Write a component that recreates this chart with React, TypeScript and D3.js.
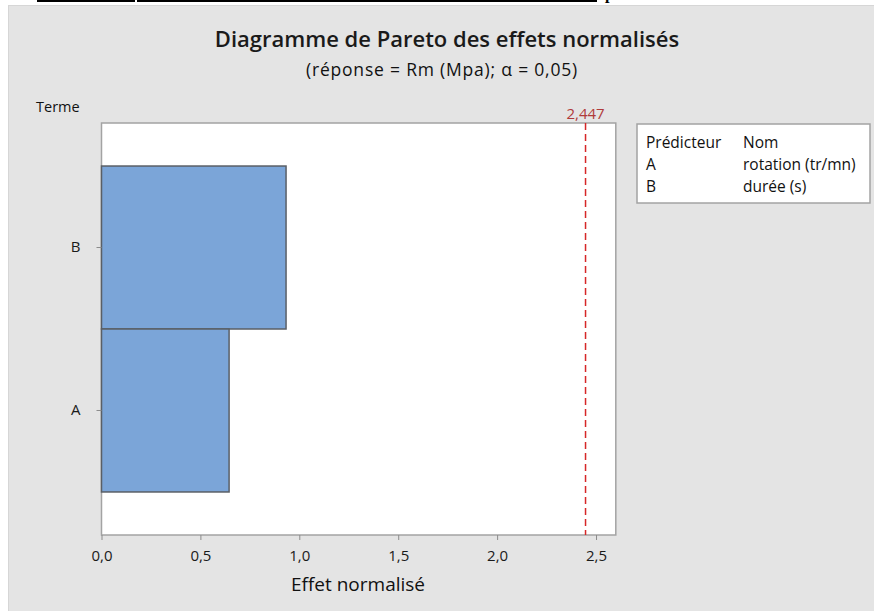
import * as d3 from 'd3';
import React from 'react';

// Termes du diagramme (ordre d'affichage, de haut en bas)
const terms = ['B', 'A'];
const effects = [0.933, 0.645];
const criticalValue = 2.447;
const xTicks = [0, 0.5, 1, 1.5, 2, 2.5];

// Tableau des prédicteurs
const predictors = ['A', 'B'];
const predictorNames = ['rotation (tr/mn)', 'durée (s)'];

const title = 'Diagramme de Pareto des effets normalisés';
const subtitle = '(réponse = Rm (Mpa); α = 0,05)';

const font = "'Open Sans', 'Noto Sans', sans-serif";

const frLocale = d3.formatLocale({ decimal: ',', thousands: ' ', grouping: [3], currency: ['', ' €'] });
const fmt1 = frLocale.format('.1f');
const fmt3 = frLocale.format('.3f');

export default function App() {
  const xAxisRef = React.useRef<SVGGElement>(null);
  const yAxisRef = React.useRef<SVGGElement>(null);

  const w = 874;
  const h = 611;
  const left = 101.5;
  const top = 123;
  const bottom = 535;
  const right = 615.8;

  const xScale = d3.scaleLinear().domain([0, 2.6]).range([left, right]);
  const yScale = d3.scaleBand().domain(terms).range([top, bottom]).paddingInner(0).paddingOuter(0.264);

  React.useEffect(() => {
    if (xAxisRef.current == null || yAxisRef.current == null) {
      return;
    }
    const gx = d3.select(xAxisRef.current);
    gx.selectAll('*').remove();
    gx.call(d3.axisBottom(xScale).tickValues(xTicks).tickFormat((d) => fmt1(d as number)).tickSize(5).tickPadding(10));
    gx.select('.domain').remove();
    gx.selectAll('line').attr('stroke', '#8c8c8c');
    gx.selectAll('text').style('font', `15px ${font}`).attr('fill', '#1a1a1a');

    const gy = d3.select(yAxisRef.current);
    gy.selectAll('*').remove();
    gy.call(d3.axisLeft(yScale).tickSize(5).tickPadding(16));
    gy.select('.domain').remove();
    gy.selectAll('line').attr('stroke', '#8c8c8c');
    gy.selectAll('text').style('font', `15px ${font}`).attr('fill', '#1a1a1a');
  }, []);

  const bars = terms.map((t, i) => (
    <rect
      key={t}
      x={xScale(0)}
      y={yScale(t)}
      width={xScale(effects[i]) - xScale(0)}
      height={yScale.bandwidth()}
      fill='#7BA5D8'
      stroke='#5a5f66'
      strokeWidth={1.5}
    />
  ));

  const legendX = 637;
  const legendY = 124;
  const rows = predictors.map((p, i) => (
    <g key={p} transform={`translate(0, ${170 + i * 21.5})`}>
      <text x={646}>{p}</text>
      <text x={743}>{predictorNames[i]}</text>
    </g>
  ));

  return (
    <svg
      width={w}
      height={h}
      style={{ position: 'absolute', left: 0, top: 0, display: 'block', background: 'white' }}>
      {/* fragment du document au-dessus du graphique */}
      <rect x={37} y={0} width={98} height={2} fill='black' />
      <rect x={137} y={0} width={460} height={2} fill='black' />
      <text x={605} y={-1} style={{ font: 'bold 16px serif' }}>
        p
      </text>

      <rect x={8} y={5} width={w - 8} height={h - 5} fill='#e4e4e4' />
      <line x1={8} y1={5.5} x2={w} y2={5.5} stroke='#d6d6d6' />
      <line x1={8.5} y1={5} x2={8.5} y2={h} stroke='#d6d6d6' />

      <text x={447} y={47} textAnchor='middle' style={{ font: `600 22px ${font}` }} fill='#1a1a1a'>
        {title}
      </text>
      <text
        x={442}
        y={76}
        textAnchor='middle'
        style={{ font: `17.5px ${font}`, letterSpacing: '0.8px' }}
        fill='#111'>
        {subtitle}
      </text>

      <text x={36} y={112} style={{ font: `14.5px ${font}` }} fill='#111'>
        Terme
      </text>

      <rect x={left} y={top} width={right - left} height={bottom - top} fill='white' stroke='#a3a3a3' strokeWidth={1.5} />
      {bars}

      <line
        x1={xScale(criticalValue)}
        x2={xScale(criticalValue)}
        y1={top}
        y2={bottom}
        stroke='#d62728'
        strokeWidth={1.5}
        strokeDasharray='7,4'
      />
      <text x={xScale(criticalValue)} y={119} textAnchor='middle' style={{ font: `15px ${font}` }} fill='#b03a3a'>
        {fmt3(criticalValue)}
      </text>

      <g ref={xAxisRef} transform={`translate(0, ${bottom})`} />
      <g ref={yAxisRef} transform={`translate(${left}, 0)`} />

      <text x={358} y={591} textAnchor='middle' style={{ font: `19px ${font}` }} fill='#111'>
        Effet normalisé
      </text>

      <rect x={legendX} y={legendY} width={233} height={79} fill='white' stroke='#a3a3a3' strokeWidth={1.5} />
      <g style={{ font: `15.5px ${font}` }} fill='#111'>
        <text x={646} y={148}>
          Prédicteur
        </text>
        <text x={743} y={148}>
          Nom
        </text>
        {rows}
      </g>
    </svg>
  );
}
